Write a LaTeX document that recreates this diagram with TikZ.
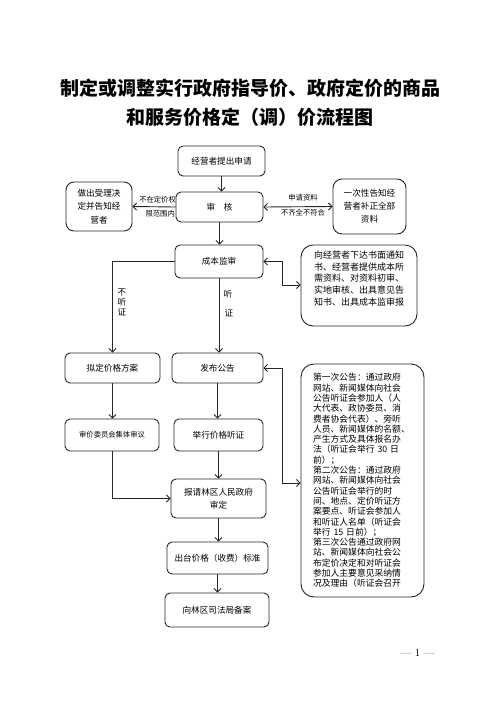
\documentclass[tikz,border=0pt]{standalone}
\usepackage{fontspec}
\newfontfamily\cjk{Noto Sans CJK SC}
\usetikzlibrary{arrows.meta}
\tikzset{
  box/.style={draw=black!85, line width=0.9pt, rounded corners=5pt, align=center, inner sep=0pt,
    font=\cjk\fontsize{8.6}{13.5}\selectfont},
  arr/.style={draw=black!85, line width=0.9pt, -{Straight Barb[length=3.5pt,width=7pt]}},
  darr/.style={draw=black!85, line width=0.9pt, {Straight Barb[length=3.5pt,width=7pt]}-{Straight Barb[length=3.5pt,width=7pt]}},
  lbl/.style={inner sep=0pt, font=\cjk\fontsize{7.3}{9}\selectfont},
  vlbl/.style={inner sep=0pt, align=center, font=\cjk\fontsize{8.6}{10}\selectfont}
}
\begin{document}
\begin{tikzpicture}[x=1pt,y=-1pt]
\useasboundingbox[fill=white] (0,0) rectangle (500,707);

\node[inner sep=0pt, align=center, font=\cjk\bfseries\fontsize{19}{29}\selectfont] (title) at (250,102.5)
  {制定或调整实行政府指导价、政府定价的商品\\和服务价格定（调）价流程图};

\node[box, minimum width=87, minimum height=30] (a) at (221.5,161) {经营者提出申请};
\node[box, minimum width=87, minimum height=30] (b) at (219.5,207) {审\hspace{8.6pt}核};
\node[box, minimum width=66, minimum height=49, rounded corners=8pt] (c) at (99,206.5) {做出受理决\\定并告知经\\营者};
\node[box, minimum width=73, minimum height=55, rounded corners=9pt, font=\cjk\fontsize{8.6}{13}\selectfont] (d) at (369.5,206.5) {一次性告知经\\营者补正全部\\资料};
\node[box, minimum width=88, minimum height=33] (e) at (219,261.5) {成本监审};
\node[box, minimum width=116, minimum height=81, rounded corners=12pt, font=\cjk\fontsize{9}{11.7}\selectfont] (f) at (359,285.5)
  {向经营者下达书面通知\\书、经营者提供成本所\\需资料、对资料初审、\\实地审核、出具意见告\\知书、出具成本监审报\\[3pt]};
\node[box, minimum width=95, minimum height=30] (h) at (112.5,368) {拟定价格方案};
\node[box, minimum width=91, minimum height=30] (g) at (217.5,368) {发布公告};
\node[box, minimum width=94, minimum height=32, font=\cjk\fontsize{7.3}{9}\selectfont] (i) at (112,435) {审价委员会集体审议};
\node[box, minimum width=89, minimum height=32] (j) at (218.5,435) {举行价格听证};
\node[box, minimum width=95, minimum height=39, font=\cjk\fontsize{8.6}{13}\selectfont] (k) at (218.5,498.5) {报请林区人民政府\\审定};
\node[box, minimum width=101, minimum height=32] (l) at (217.5,558) {出台价格（收费）标准};
\node[box, minimum width=104, minimum height=34] (m) at (217,610) {向林区司法局备案};
\node[box, minimum width=123, minimum height=233, rounded corners=13pt, text width=99, inner xsep=12pt, align=left,
  font=\cjk\fontsize{8.8}{10.3}\selectfont] (n) at (362.5,480.5)
  {第一次公告：通过政府\\网站、新闻媒体向社会\\公告听证会参加人（人\\大代表、政协委员、消\\费者协会代表）、旁听\\人员、新闻媒体的名额、\\产生方式及具体报名办\\法（听证会举行 30 日\\前）；\\第二次公告：通过政府\\网站、新闻媒体向社会\\公告听证会举行的时\\间、地点、定价听证方\\案要点、听证会参加人\\和听证人名单（听证会\\举行 15 日前）；\\第三次公告通过政府网\\站、新闻媒体向社会公\\布定价决定和对听证会\\参加人主要意见采纳情\\况及理由（听证会召开};

\coordinate (k1) at (282,285);
\coordinate (k2) at (282,483);

\draw[arr] (a.south) -- (a.south |- b.north);
\draw[arr] (b.west) -- (c.east);
\draw[darr] (b.east) -- (d.west);
\draw[arr] (b.south) -- (b.south |- e.north);
\draw[darr] (e.east) -| (k1) -- (k1 -| f.west);
\draw[arr] (e.south) -- (e.south |- g.north);
\draw[arr] (e.west) -| (h.north);
\draw[arr] (h.south) -- (h.south |- i.north);
\draw[arr] (g.south) -- (g.south |- j.north);
\draw[arr] (i.south) |- (k.west);
\draw[arr] (j.south) -- (j.south |- k.north);
\draw[arr] (k.south) -- (k.south |- l.north);
\draw[arr] (l.south) -- (l.south |- m.north);
\draw[darr] (g.east) -| (k2) -- (k2 -| n.west);

\node[lbl, anchor=east] (la1) at (176,200) {不在定价权};
\node[lbl, anchor=east] (la2) at (175,214) {限范围内};
\node[lbl] (lb1) at (303,198) {申请资料};
\node[lbl] (lb2) at (303,213) {不齐全不符合};
\node[vlbl] (lc1) at (228,294) {听};
\node[vlbl] (lc2) at (229,313) {证};
\node[vlbl] (ld) at (122,302) {不\\听\\证};

\node[inner sep=0pt, font=\fontsize{11}{13}\selectfont] (pg) at (417.5,653) {— 1 —};
\end{tikzpicture}
\end{document}
